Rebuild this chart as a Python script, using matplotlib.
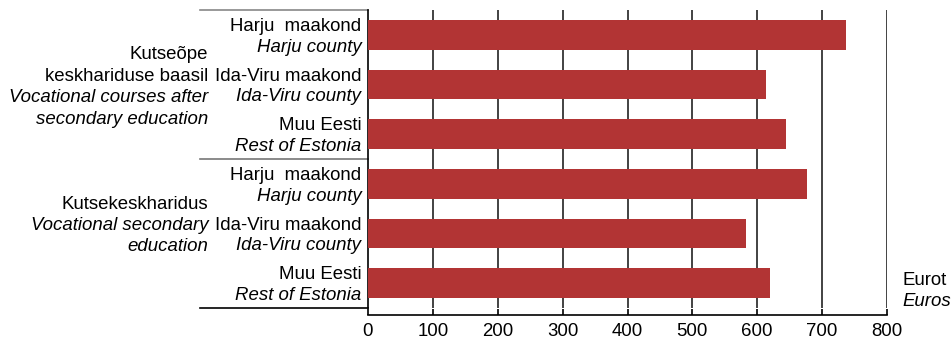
import matplotlib.pyplot as plt
from matplotlib.lines import Line2D

plt.rcParams['font.family'] = ['Liberation Sans', 'DejaVu Sans']

# andmed / data
region_et = ["Harju  maakond", "Ida-Viru maakond", "Muu Eesti",
             "Harju  maakond", "Ida-Viru maakond", "Muu Eesti"]
region_en = ["Harju county", "Ida-Viru county", "Rest of Estonia",
             "Harju county", "Ida-Viru county", "Rest of Estonia"]
values = [737, 613, 645, 677, 583, 619]
group_lines = [
    [("Kutseõpe", "normal"), ("keskhariduse baasil", "normal"),
     ("Vocational courses after", "italic"), ("secondary education", "italic")],
    [("Kutsekeskharidus", "normal"), ("Vocational secondary", "italic"),
     ("education", "italic")],
]
group_centers = [1.05, 3.84]
xticks = [0, 100, 200, 300, 400, 500, 600, 700, 800]
FS = 13.4

fig = plt.figure(figsize=(9.53, 3.42), dpi=100)
ax = fig.add_axes([368 / 953, 34 / 342, 519 / 953, 298 / 342])

ypos = list(range(len(values)))
ax.barh(ypos, values, height=0.6, color='#b23434', zorder=3)

ax.set_xlim(0, 800)
ax.set_ylim(5.5, -0.5)
ax.set_xticks(xticks)
ax.set_yticks([])
for x in xticks[1:]:
    ax.axvline(x, color='#222222', lw=1.2, zorder=1)

for s in ['top', 'right']:
    ax.spines[s].set_visible(False)
ax.spines['left'].set_color('black')
ax.spines['left'].set_linewidth(1.2)
ax.spines['bottom'].set_position(('outward', 5))
ax.spines['bottom'].set_linewidth(1.2)
ax.tick_params(axis='x', direction='in', length=4.5, width=1.2, pad=6,
               labelsize=FS, colors='black')

tr = ax.get_yaxis_transform()
for i in ypos:
    ax.text(-0.013, i - 0.17, region_et[i], transform=tr, ha='right',
            va='center', fontsize=FS)
    ax.text(-0.013, i + 0.25, region_en[i], transform=tr, ha='right',
            va='center', fontsize=FS, style='italic')

for lines, c in zip(group_lines, group_centers):
    n = len(lines)
    for k, (t, st) in enumerate(lines):
        y = c + (k - (n - 1) / 2) * 0.43
        ax.text(-0.308, y, t, transform=tr, ha='right', va='center',
                fontsize=FS, style=st)

for y, col in [(-0.5, '#888888'), (2.5, '#777777'), (5.5, 'black')]:
    ax.add_line(Line2D([-0.323, 0], [y, y], transform=tr, color=col,
                       lw=1.2, clip_on=False))

ax.text(1.029, 4.94, "Eurot", transform=tr, ha='left', va='center', fontsize=FS)
ax.text(1.029, 5.36, "Euros", transform=tr, ha='left', va='center',
        fontsize=FS, style='italic')

fig.savefig('out.png', dpi=100)
